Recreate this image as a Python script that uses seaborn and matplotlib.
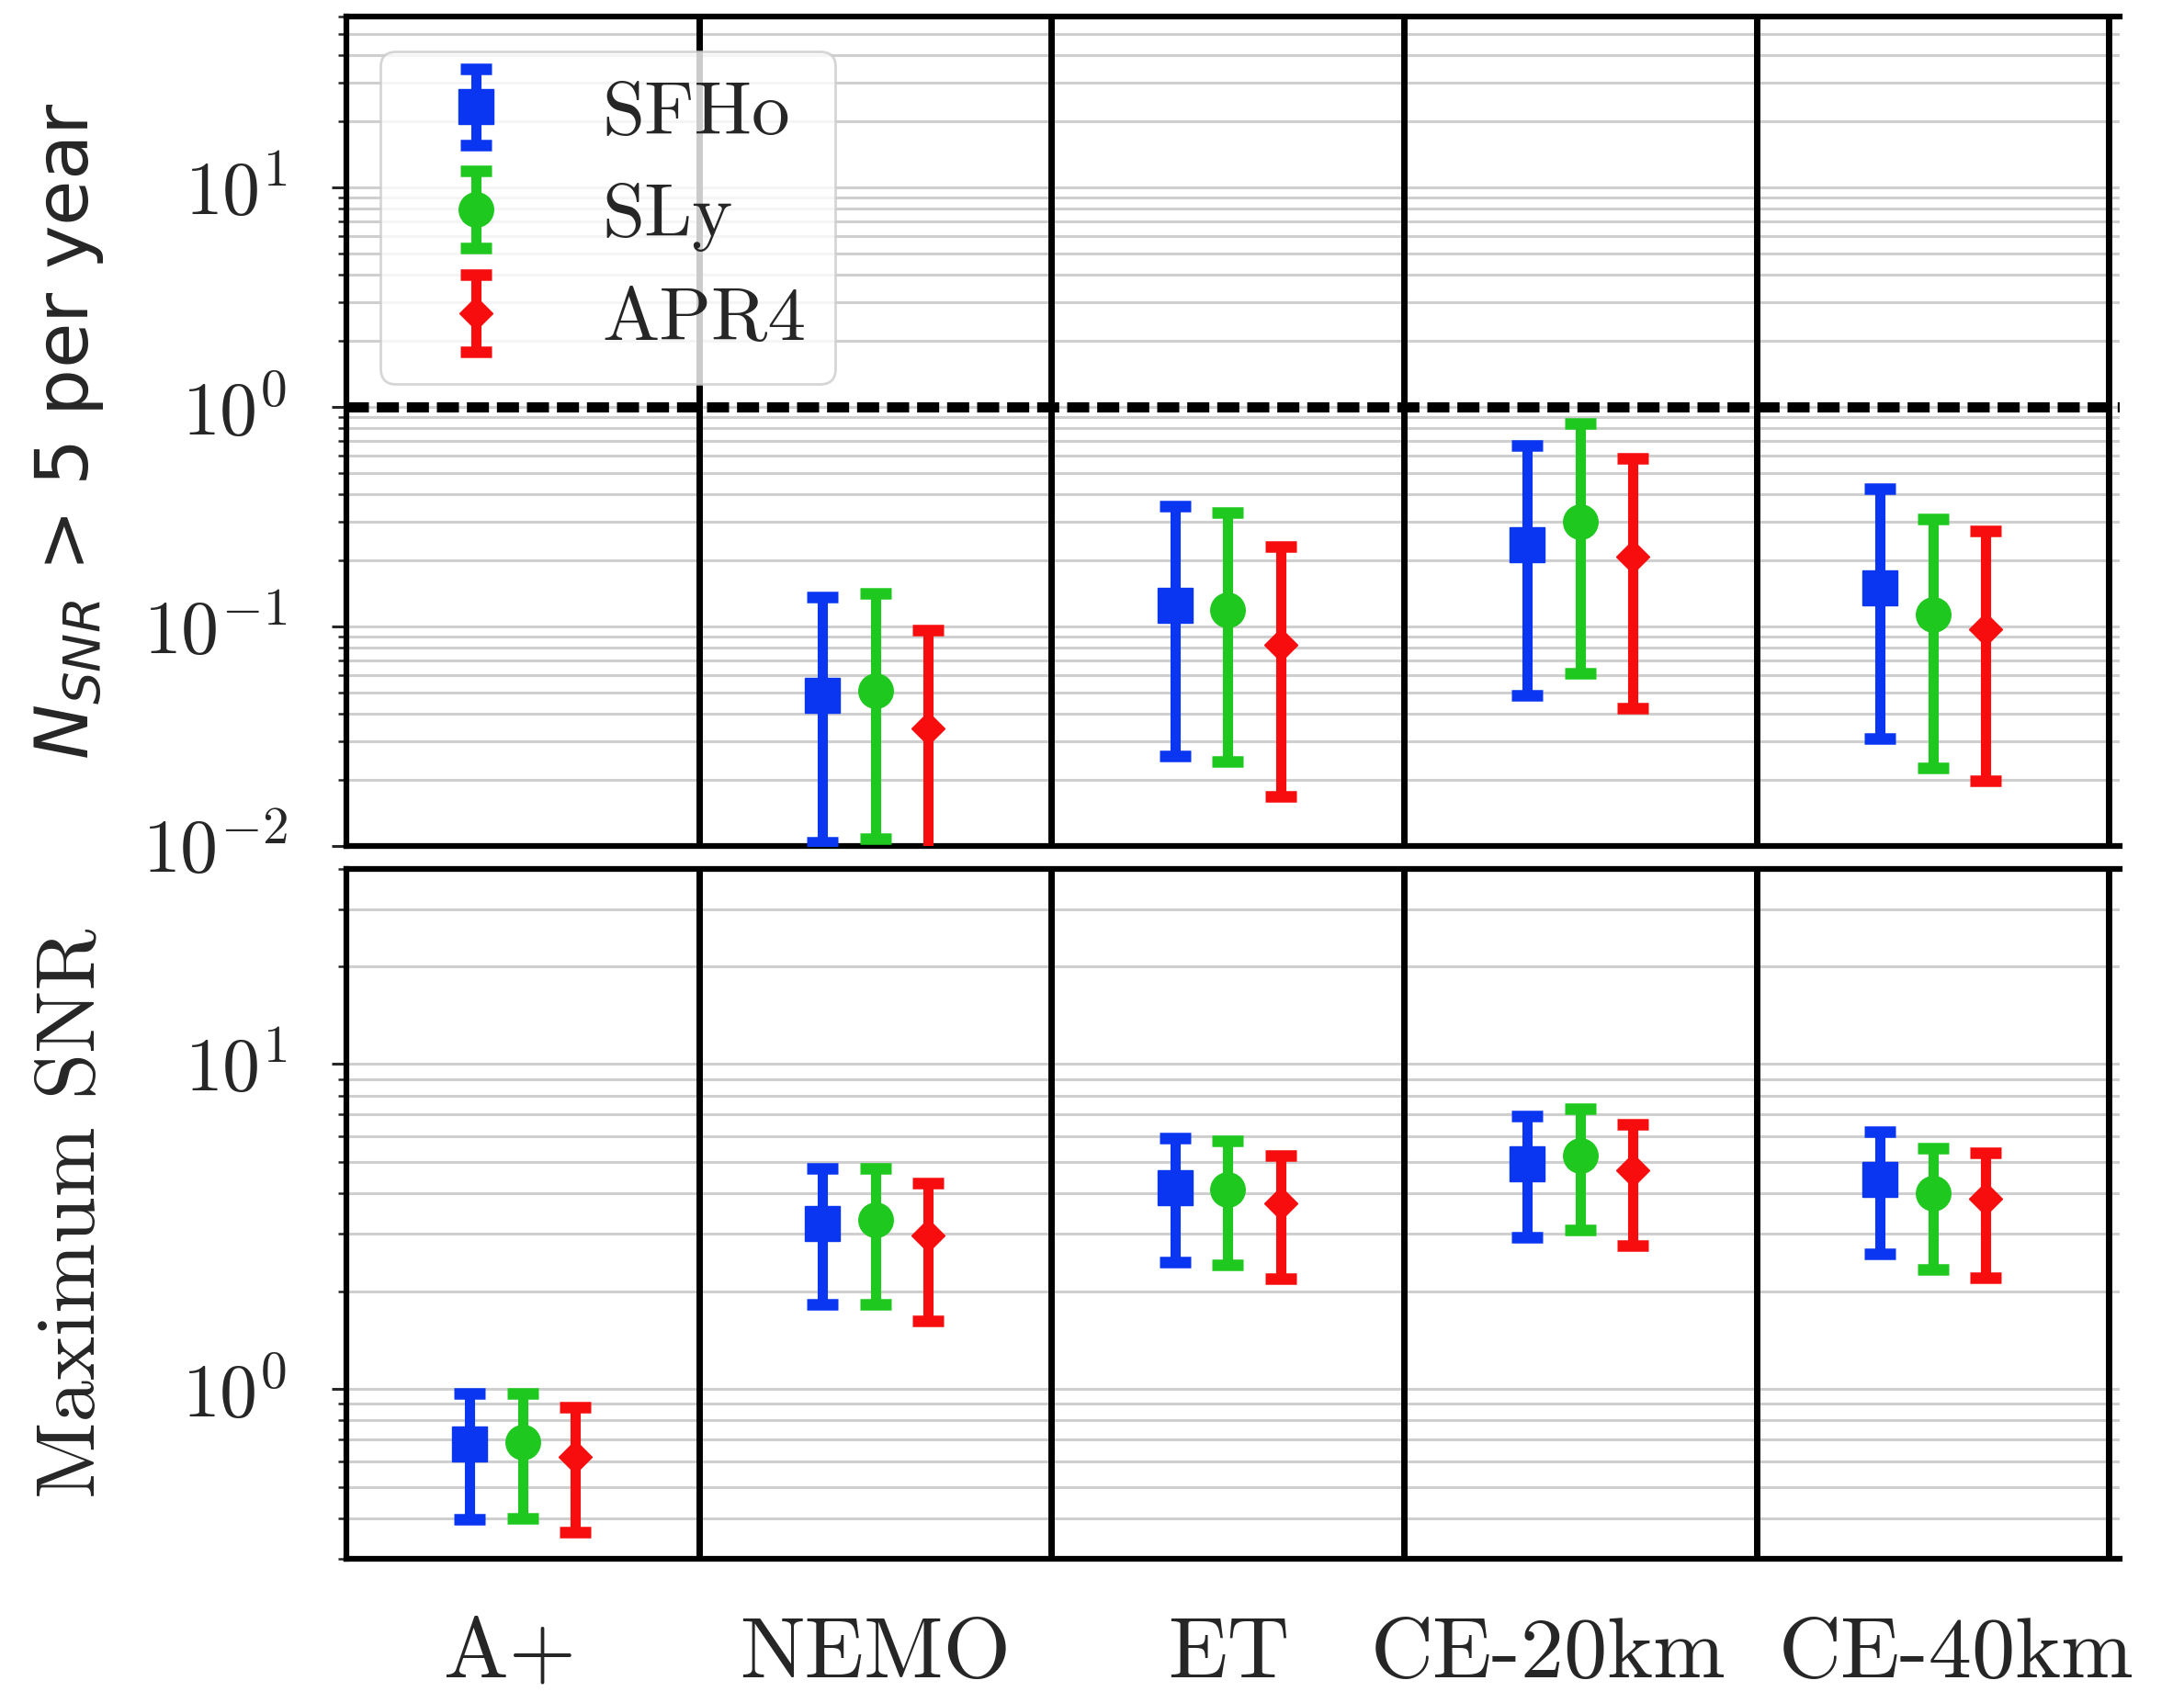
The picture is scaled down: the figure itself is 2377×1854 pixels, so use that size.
import numpy as np
import matplotlib
matplotlib.use("Agg")
import matplotlib.pyplot as plt
import seaborn as sns
from matplotlib.ticker import LogLocator, FuncFormatter, NullFormatter
from matplotlib.transforms import ScaledTranslation

# ---------------------------------------------------------------- data
detectors = ["A+", "NEMO", "ET", "CE-20km", "CE-40km"]
eos_names = ["SFHo", "SLy", "APR4"]

nan = np.nan
# Number of post-merger signals with SNR > 5 per year (central, lower, upper)
rate_sfho = [nan, 0.0487, 0.125, 0.235, 0.150]
rate_sfho_lo = [nan, 0.0104, 0.0257, 0.0487, 0.031]
rate_sfho_hi = [nan, 0.136, 0.354, 0.667, 0.425]

rate_sly = [nan, 0.0508, 0.119, 0.299, 0.113]
rate_sly_lo = [nan, 0.0108, 0.0243, 0.061, 0.0226]
rate_sly_hi = [nan, 0.142, 0.329, 0.838, 0.310]

rate_apr4 = [nan, 0.0343, 0.0822, 0.207, 0.0975]
rate_apr4_lo = [nan, 0.008, 0.0169, 0.0426, 0.0199]
rate_apr4_hi = [nan, 0.0966, 0.231, 0.583, 0.272]

# Maximum SNR (central, lower, upper)
snr_sfho = [0.679, 3.24, 4.16, 4.93, 4.42]
snr_sfho_lo = [0.396, 1.82, 2.45, 2.93, 2.60]
snr_sfho_hi = [0.966, 4.77, 5.93, 6.93, 6.20]

snr_sly = [0.687, 3.32, 4.10, 5.23, 4.01]
snr_sly_lo = [0.400, 1.82, 2.41, 3.08, 2.33]
snr_sly_hi = [0.966, 4.77, 5.80, 7.30, 5.50]

snr_apr4 = [0.619, 2.97, 3.72, 4.72, 3.84]
snr_apr4_lo = [0.363, 1.62, 2.19, 2.77, 2.20]
snr_apr4_hi = [0.880, 4.30, 5.23, 6.54, 5.32]

# ---------------------------------------------------------------- style
sns.set_theme(style="ticks")
plt.rcParams["font.family"] = "serif"
plt.rcParams["font.serif"] = ["cmr10"]
plt.rcParams["mathtext.fontset"] = "cm"
plt.rcParams["axes.formatter.use_mathtext"] = True
plt.rcParams["axes.unicode_minus"] = True

palette = sns.color_palette(["#0a36f2", "#1ec81e", "#f70d0d"])
markers = ["s", "o", "D"]
msizes = [27, 27, 18]
offsets = [-0.15, 0.0, 0.15]

W, H, DPI = 2377, 1854, 100
fig = plt.figure(figsize=(W / DPI, H / DPI), dpi=DPI)

left = 377 / W
width = (2307 - 377) / W
ax_top = fig.add_axes([left, 1 - 921 / H, width, (921 - 18) / H])
ax_bot = fig.add_axes([left, 1 - 1697 / H, width, (1697 - 945.6) / H])

x = np.arange(len(detectors))

rate_sets = [(rate_sfho, rate_sfho_lo, rate_sfho_hi),
             (rate_sly, rate_sly_lo, rate_sly_hi),
             (rate_apr4, rate_apr4_lo, rate_apr4_hi)]
snr_sets = [(snr_sfho, snr_sfho_lo, snr_sfho_hi),
            (snr_sly, snr_sly_lo, snr_sly_hi),
            (snr_apr4, snr_apr4_lo, snr_apr4_hi)]


def draw_panel(ax, sets, ylim, with_labels):
    for i, (mid, lo, hi) in enumerate(sets):
        mid = np.asarray(mid, float)
        lo = np.asarray(lo, float)
        hi = np.asarray(hi, float)
        yerr = np.vstack([mid - lo, hi - mid])
        ax.errorbar(x + offsets[i], mid, yerr=yerr, fmt=markers[i],
                    color=palette[i], ms=msizes[i], elinewidth=8,
                    capsize=12, capthick=9, zorder=4,
                    label=eos_names[i] if with_labels else None)
    for xs in np.arange(len(detectors)) + 0.5:
        ax.axvline(xs, color="black", lw=5, zorder=3)
    ax.set_yscale("log")
    ax.set_ylim(*ylim)
    ax.set_xlim(-0.5, 4.53)
    ax.yaxis.set_major_locator(LogLocator(base=10))
    ax.yaxis.set_minor_locator(LogLocator(base=10, subs=np.arange(2, 10)))
    ax.yaxis.set_major_formatter(
        FuncFormatter(lambda v, _: rf"$10^{{{int(round(np.log10(v)))}}}$"))
    ax.yaxis.set_minor_formatter(NullFormatter())
    ax.set_axisbelow(True)
    ax.grid(True, which="both", axis="y", color="#cfcfcf", lw=2.2)
    ax.grid(False, axis="x")
    ax.tick_params(axis="y", which="major", length=11.5, width=2.2,
                   pad=35, labelsize=59, right=False, left=True)
    ax.tick_params(axis="y", which="minor", length=6.5, width=1.8,
                   right=False, left=True)
    ax.set_xticks(x)
    for side in ["left", "top", "bottom"]:
        ax.spines[side].set_linewidth(4.5)
        ax.spines[side].set_color("black")
    ax.spines["right"].set_visible(False)


draw_panel(ax_top, rate_sets, (0.01, 60), True)
draw_panel(ax_bot, snr_sets, (0.3, 40), False)

ax_top.axhline(1.0, color="black", lw=8, ls=(0, (2.16, 0.78)), zorder=3.5)

ax_top.tick_params(axis="x", length=0, labelbottom=False)
ax_bot.tick_params(axis="x", length=0, pad=46, labelsize=68)
ax_bot.set_xticklabels(detectors)
# nudge the detector names sideways (in points)
label_nudge = [-10, 0, 1, -25, 18]
for lab, dx in zip(ax_bot.get_xticklabels(), label_nudge):
    lab.set_transform(lab.get_transform()
                      + ScaledTranslation(dx / 72, 0, fig.dpi_scale_trans))

ax_top.set_ylabel(r"$N_{SNR}$ > 5 per year", fontsize=58,
                  family="DejaVu Sans", math_fontfamily="dejavusans",
                  va="center")
ax_top.yaxis.set_label_coords((75 - 377) / (2307 - 377), 0.5)
ax_bot.set_ylabel("Maximum SNR", fontsize=65.5, va="center")
ax_bot.yaxis.set_label_coords((80 - 377) / (2307 - 377), 0.5)

leg = ax_top.legend(loc="upper left", fontsize=60, numpoints=1,
                    frameon=True, fancybox=True, framealpha=0.8,
                    edgecolor="#cccccc", borderaxespad=0.45,
                    handlelength=1.73, handletextpad=0.78,
                    labelspacing=0.45, borderpad=0.38)
leg.get_frame().set_linewidth(2)

fig.savefig("out.png", dpi=DPI, facecolor="white")
